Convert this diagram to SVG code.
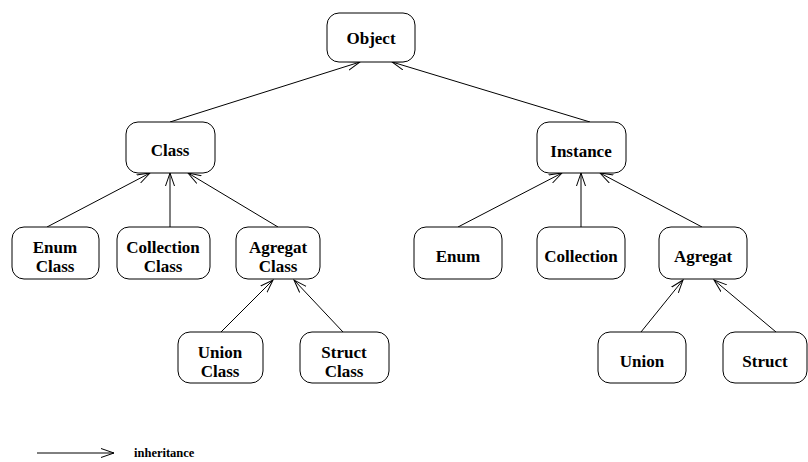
<svg xmlns="http://www.w3.org/2000/svg" width="808" height="462" viewBox="0 0 808 462">
<style>
.box{fill:#fff;stroke:#000;stroke-width:1}
.t{font-family:"Liberation Serif","Times New Roman",serif;font-weight:bold;font-size:17px;text-anchor:middle;fill:#000}
.lg{font-family:"Liberation Serif","Times New Roman",serif;font-weight:bold;font-size:12.5px;fill:#000}
.c{stroke:#000;stroke-width:1;fill:none}
</style>
<defs>
<marker id="arr" markerUnits="userSpaceOnUse" markerWidth="16" markerHeight="12" refX="13" refY="5" orient="auto">
<path d="M0,0.5 L13,5 L0,9.5" fill="none" stroke="#000" stroke-width="1"/>
</marker>
</defs>
<rect width="808" height="462" fill="#fff"/>
<g id="connectors">
<line class="c" x1="170" y1="122" x2="360" y2="62" marker-end="url(#arr)"/>
<line class="c" x1="590" y1="122" x2="392" y2="62" marker-end="url(#arr)"/>
<line class="c" x1="47" y1="227" x2="150" y2="173" marker-end="url(#arr)"/>
<line class="c" x1="170" y1="227" x2="170" y2="173" marker-end="url(#arr)"/>
<line class="c" x1="278" y1="227" x2="188" y2="173" marker-end="url(#arr)"/>
<line class="c" x1="221" y1="332" x2="273" y2="280" marker-end="url(#arr)"/>
<line class="c" x1="343" y1="332" x2="294" y2="280" marker-end="url(#arr)"/>
<line class="c" x1="458" y1="227" x2="562" y2="173" marker-end="url(#arr)"/>
<line class="c" x1="581" y1="227" x2="581" y2="173" marker-end="url(#arr)"/>
<line class="c" x1="702" y1="227" x2="600" y2="173" marker-end="url(#arr)"/>
<line class="c" x1="641" y1="332" x2="683" y2="280" marker-end="url(#arr)"/>
<line class="c" x1="776" y1="332" x2="714" y2="280" marker-end="url(#arr)"/>
</g>
<g id="object"><rect class="box" x="327" y="13" width="88" height="49" rx="12"/><text class="t" x="371" y="44">Object</text></g>
<g id="class"><rect class="box" x="126" y="122" width="89" height="51" rx="12"/><text class="t" x="170" y="156">Class</text></g>
<g id="instance"><rect class="box" x="537" y="122" width="89" height="51" rx="12"/><text class="t" x="581" y="157">Instance</text></g>
<g id="enum-class"><rect class="box" x="12" y="227" width="87" height="52" rx="12"/><text class="t" x="55" y="253">Enum</text><text class="t" x="55" y="272">Class</text></g>
<g id="collection-class"><rect class="box" x="117" y="227" width="93" height="52" rx="12"/><text class="t" x="163" y="253">Collection</text><text class="t" x="163" y="272">Class</text></g>
<g id="agregat-class"><rect class="box" x="236" y="227" width="84" height="52" rx="12"/><text class="t" x="278" y="253">Agregat</text><text class="t" x="278" y="272">Class</text></g>
<g id="union-class"><rect class="box" x="178" y="332" width="85" height="51" rx="12"/><text class="t" x="220" y="358">Union</text><text class="t" x="220" y="377">Class</text></g>
<g id="struct-class"><rect class="box" x="300" y="332" width="89" height="51" rx="12"/><text class="t" x="344" y="358">Struct</text><text class="t" x="344" y="377">Class</text></g>
<g id="enum"><rect class="box" x="414" y="227" width="88" height="52" rx="12"/><text class="t" x="458" y="262">Enum</text></g>
<g id="collection"><rect class="box" x="537" y="227" width="88" height="52" rx="12"/><text class="t" x="581" y="262">Collection</text></g>
<g id="agregat"><rect class="box" x="659" y="227" width="88" height="52" rx="12"/><text class="t" x="703" y="262">Agregat</text></g>
<g id="union"><rect class="box" x="598" y="332" width="88" height="51" rx="12"/><text class="t" x="642" y="367">Union</text></g>
<g id="struct"><rect class="box" x="723" y="332" width="84" height="51" rx="12"/><text class="t" x="765" y="367">Struct</text></g>
<g id="legend">
<line class="c" x1="37" y1="453" x2="114" y2="453" marker-end="url(#arr)"/>
<text class="lg" x="134" y="457">inheritance</text>
</g>
</svg>
